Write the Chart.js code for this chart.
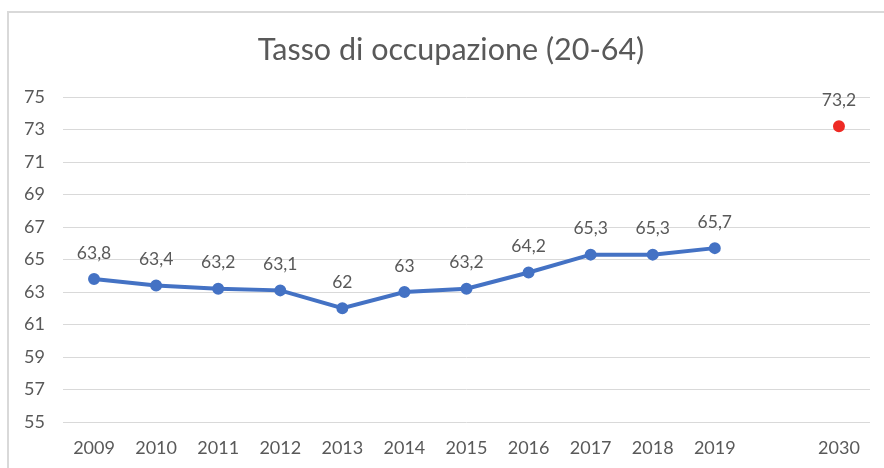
<!DOCTYPE html>
<html>
<head>
<meta charset="utf-8">
<script src="https://cdn.jsdelivr.net/npm/chart.js@4"></script>
<style>
  html, body { margin: 0; padding: 0; background: #fff; }
  #wrap { position: relative; width: 884px; height: 468px; overflow: hidden; }
  #frame { position: absolute; left: 7px; top: 11px; width: 900px; height: 500px;
           border: 2px solid #d9d9d9; box-sizing: border-box; }
  canvas { position: absolute; left: 0; top: 0; }
</style>
</head>
<body>
<div id="wrap">
  <div id="frame"></div>
  <canvas id="myChart" width="884" height="468"></canvas>
</div>
<script>
const years = ['2009', '2010', '2011', '2012', '2013', '2014', '2015', '2016', '2017', '2018', '2019', '', '2030'];
const occupazione = [63.8, 63.4, 63.2, 63.1, 62, 63, 63.2, 64.2, 65.3, 65.3, 65.7, null, null];
const obiettivo = [null, null, null, null, null, null, null, null, null, null, null, null, 73.2];
const yTicks = [55, 57, 59, 61, 63, 65, 67, 69, 71, 73, 75];
const titolo = 'Tasso di occupazione (20-64)';

const grey = '#595959';
const fontFamily = 'Lato, "Open Sans", sans-serif';

// draws the value above every point, using the positions from the chart meta
const valueLabels = {
  id: 'valueLabels',
  afterDatasetsDraw(chart) {
    const ctx = chart.ctx;
    ctx.save();
    ctx.font = '17.5px ' + fontFamily;
    ctx.fillStyle = grey;
    ctx.textAlign = 'center';
    ctx.textBaseline = 'middle';
    chart.data.datasets.forEach((ds, i) => {
      const meta = chart.getDatasetMeta(i);
      meta.data.forEach((pt, j) => {
        const v = ds.data[j];
        if (v === null || v === undefined) return;
        ctx.fillText(String(v).replace('.', ','), pt.x, pt.y - 26);
      });
    });
    ctx.restore();
  }
};

// title sits a bit right of the canvas centre in the original, so draw it by hand
const titlePlugin = {
  id: 'titlePlugin',
  afterDraw(chart) {
    const ctx = chart.ctx;
    ctx.save();
    ctx.font = '30.5px ' + fontFamily;
    ctx.fillStyle = grey;
    ctx.textAlign = 'center';
    ctx.textBaseline = 'middle';
    ctx.fillText(titolo, chart.width / 2 + 9, 50);
    ctx.restore();
  }
};

const ctx = document.getElementById('myChart').getContext('2d');
const chart = new Chart(ctx, {
  type: 'line',
  data: {
    labels: years,
    datasets: [
      {
        label: 'Tasso di occupazione',
        data: occupazione,
        borderColor: '#4472C4',
        backgroundColor: '#4472C4',
        borderWidth: 4,
        pointRadius: 5,
        pointBorderWidth: 2,
        pointBorderColor: '#4472C4',
        pointBackgroundColor: '#4472C4',
        tension: 0,
        spanGaps: false
      },
      {
        label: 'Obiettivo 2030',
        data: obiettivo,
        borderColor: '#EE2A24',
        backgroundColor: '#EE2A24',
        pointRadius: 5,
        pointBorderWidth: 2,
        pointBorderColor: '#EE2A24',
        pointBackgroundColor: '#EE2A24',
        showLine: false
      }
    ]
  },
  options: {
    responsive: false,
    animation: false,
    layout: { padding: { left: 0, right: 14, top: 97, bottom: 0 } },
    plugins: {
      legend: { display: false },
      tooltip: { enabled: false },
      title: { display: false }
    },
    scales: {
      x: {
        offset: true,
        grid: { display: false },
        border: { display: false },
        ticks: {
          color: grey,
          font: { family: fontFamily, size: 18 },
          padding: 7,
          maxRotation: 0,
          autoSkip: false
        },
        afterFit: s => { s.height = 46; }
      },
      y: {
        min: 55,
        max: 75,
        afterBuildTicks: s => { s.ticks = yTicks.map(v => ({ value: v })); },
        grid: { color: '#d9d9d9', lineWidth: 1, drawTicks: false },
        border: { display: false },
        ticks: {
          color: grey,
          font: { family: fontFamily, size: 18 },
          padding: 18
        },
        afterFit: s => { s.width = 63; }
      }
    }
  },
  plugins: [valueLabels, titlePlugin]
});
</script>
</body>
</html>
